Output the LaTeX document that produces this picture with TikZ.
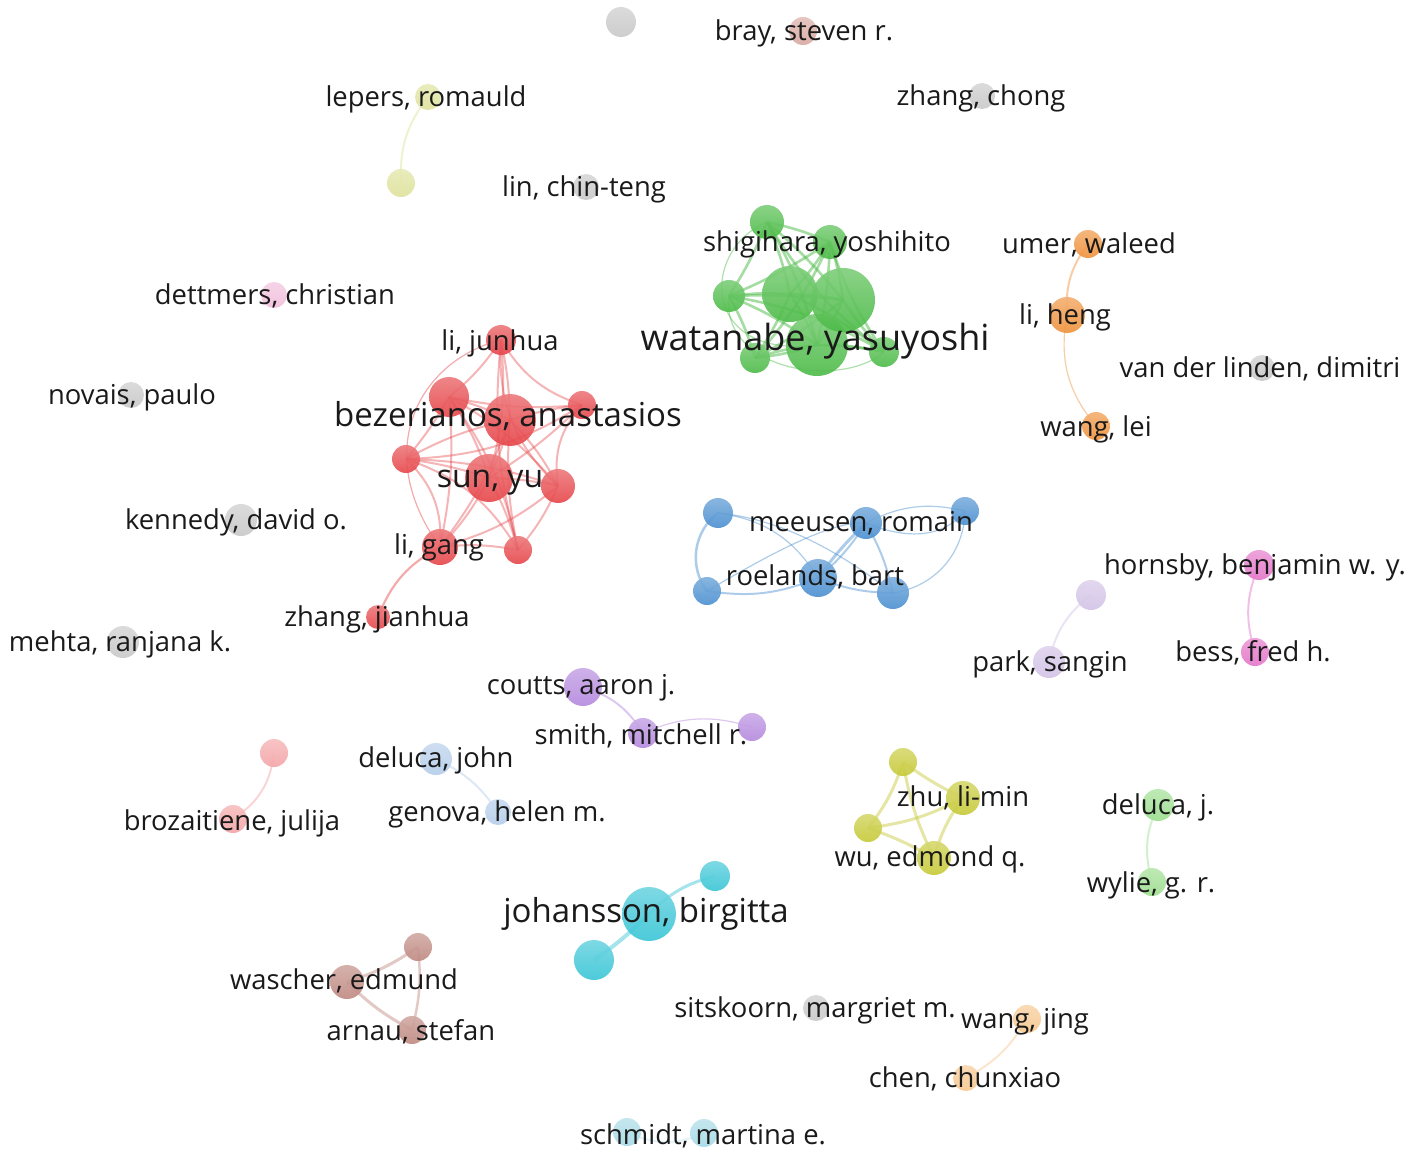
\documentclass[tikz,border=0pt]{standalone}
\usepackage{fontspec}
\setmainfont{Open Sans}
\definecolor{txt}{HTML}{1A1A1A}
\definecolor{cgray}{HTML}{C8C8C8}
\definecolor{cred}{HTML}{E64549}
\definecolor{cgreen}{HTML}{4CBB47}
\definecolor{cblue}{HTML}{4A8FD0}
\definecolor{corange}{HTML}{EF913A}
\definecolor{colive}{HTML}{C6C936}
\definecolor{ccyan}{HTML}{39C5D6}
\definecolor{cpurple}{HTML}{B488DE}
\definecolor{clav}{HTML}{D2C2E6}
\definecolor{cpink}{HTML}{E474C8}
\definecolor{cpinkl}{HTML}{F2BEDC}
\definecolor{csalmon}{HTML}{F4A4A6}
\definecolor{clblue}{HTML}{B4CDEA}
\definecolor{clgreen}{HTML}{9CDE8E}
\definecolor{cbrown}{HTML}{BF8880}
\definecolor{cbray}{HTML}{D8A8A0}
\definecolor{cpeach}{HTML}{F7C78E}
\definecolor{clep}{HTML}{DEE29A}
\definecolor{csch}{HTML}{A6DAE6}
\tikzset{
  nd/.style={circle, inner sep=0pt, draw=none, top color=#1!72!white, bottom color=#1, fill opacity=0.9},
  lb/.style={anchor=mid, text=txt, inner sep=0pt, yshift=-7pt, font=\fontsize{27.4}{30}\selectfont},
  lbig/.style={font=\fontsize{#1}{#1}\selectfont},
  ed/.style={draw=#1, line width=2pt, draw opacity=0.45},
  edt/.style={draw=#1, line width=1.2pt, draw opacity=0.45},
}
\begin{document}
\begin{tikzpicture}[x=1pt,y=-1pt]
\useasboundingbox[fill=white] (0,0) rectangle (1418,1155);
% ---------- node positions (coordinates) ----------
\coordinate (pgA) at (621,22);
\coordinate (pbray) at (803,31);
\coordinate (plep) at (428,97);
\coordinate (plep2) at (401,183);
\coordinate (pzc) at (982,96);
\coordinate (plin) at (586,187);
\coordinate (pdet) at (274,295);
\coordinate (pnov) at (131,395);
\coordinate (pken) at (241,520);
\coordinate (pmeh) at (123,642);
\coordinate (pvdl) at (1262,368);
\coordinate (psit) at (816,1008);
% ---------- edges ----------
% lepers
\draw[ed=clep] (plep) to[bend right=20] (plep2);
% orange
\draw[ed=corange] (1088,244) coordinate (pumer) to[bend right=20] (1067,315) coordinate (pheng);
\draw[edt=corange] (pheng) to[bend right=25] (1096,426) coordinate (pwlei);
% green
\coordinate (g1) at (767,222); \coordinate (shig) at (830,242); \coordinate (g3) at (729,296);
\coordinate (g4) at (790,294); \coordinate (g5) at (843,300); \coordinate (wat) at (817,345);
\coordinate (g6) at (755,358); \coordinate (g7) at (884,352);
\foreach \a/\b/\bd in {g1/shig/5,g1/g3/5,g1/g4/5,g1/g5/5,g1/wat/8,g1/g7/-10,shig/g3/5,shig/g4/5,shig/g5/5,shig/wat/5,shig/g6/8,shig/g7/-8,g3/g4/5,g3/g5/4,g3/wat/6,g3/g6/6,g3/g7/10,g4/g5/5,g4/wat/5,g4/g6/5,g4/g7/5,g5/wat/5,g5/g6/5,g5/g7/-5,wat/g6/5,wat/g7/5,g6/g7/15}
  \draw[ed=cgreen, line width=2.6pt, draw opacity=0.5] (\a) to[bend left=\bd] (\b);
\draw[edt=cgreen] (g1) .. controls (700,250) and (700,360) .. (wat);
\draw[edt=cgreen] (g3) .. controls (720,370) and (840,390) .. (g7);
% red
\coordinate (J) at (501,340); \coordinate (A) at (449,397); \coordinate (B) at (510,420);
\coordinate (C) at (582,405); \coordinate (D) at (406,459); \coordinate (S) at (489,478);
\coordinate (E) at (558,486); \coordinate (G) at (440,547); \coordinate (F) at (518,550);
\coordinate (Z) at (378,617);
\foreach \a/\b/\bd in {J/A/8,J/B/5,J/C/-20,J/S/10,J/E/-25,J/F/-10,A/B/5,A/C/-8,A/D/5,A/S/8,A/E/10,A/F/12,A/G/8,B/C/5,B/D/-8,B/S/5,B/E/8,B/G/8,B/F/-8,C/E/-25,C/S/6,C/D/15,D/S/5,D/E/8,D/G/25,D/F/20,S/E/5,S/G/8,S/F/6,E/F/8,E/G/12,G/F/8}
  \draw[ed=cred, line width=2pt, draw opacity=0.4] (\a) to[bend left=\bd] (\b);
\draw[edt=cred] (J) .. controls (420,360) and (370,450) .. (G);
\draw[ed=cred, line width=2.2pt] (G) to[bend right=20] (Z);
% blue
\coordinate (b1) at (718,513); \coordinate (M) at (866,523); \coordinate (b2) at (965,511);
\coordinate (R) at (818,578); \coordinate (b3) at (707,591); \coordinate (b4) at (893,593);
\draw[ed=cblue, line width=2.5pt] (b1) to[bend right=45] (b3);
\draw[edt=cblue] (b1) to[bend left=25] (R);
\draw[edt=cblue] (b1) .. controls (790,520) and (850,560) .. (b4);
\draw[ed=cblue] (b3) to[bend right=15] (R);
\draw[edt=cblue] (b3) .. controls (760,560) and (830,520) .. (M);
\draw[ed=cblue, line width=3pt] (R) to[bend left=5] (M);
\draw[ed=cblue] (R) to[bend right=8] (M);
\draw[ed=cblue] (M) to[bend left=8] (b4);
\draw[edt=cblue] (M) to[bend left=20] (b2);
\draw[edt=cblue] (M) .. controls (920,545) and (950,530) .. (b2);
\draw[edt=cblue] (b2) to[bend left=40] (b4);
\draw[ed=cblue] (R) to[bend right=10] (b4);
% lavender, pink
\draw[ed=clav] (1091,595) coordinate (lav1) to[bend right=20] (1049,662) coordinate (park);
\draw[ed=cpink] (1259,565) coordinate (horn) to[bend right=20] (1255,652) coordinate (bess);
% purple
\coordinate (cou) at (583,687); \coordinate (smi) at (643,733); \coordinate (p3) at (752,727);
\draw[ed=cpurple] (cou) to[bend left=20] (smi);
\draw[edt=cpurple] (smi) to[bend left=20] (p3);
% salmon, light blue
\draw[ed=csalmon] (274,753) coordinate (sal1) to[bend left=25] (233,819) coordinate (broz);
\draw[ed=clblue] (436,759) coordinate (djo) to[bend left=15] (498,812) coordinate (gen);
% olive
\coordinate (y1) at (903,762); \coordinate (Zh) at (963,798); \coordinate (y2) at (868,828); \coordinate (Wu) at (934,858);
\foreach \a/\b/\bd in {y1/Zh/-5,y1/y2/10,y1/Wu/-8,y2/Zh/-10,y2/Wu/5,Zh/Wu/-10}
  \draw[ed=colive, line width=3pt] (\a) to[bend left=\bd] (\b);
% light green
\draw[ed=clgreen] (1158,805) coordinate (dj) to[bend right=20] (1152,882) coordinate (wyl);
% cyan
\coordinate (c1) at (715,876); \coordinate (jo) at (649,914); \coordinate (c2) at (594,960);
\draw[ed=ccyan, line width=3pt] (c1) to[bend right=15] (jo);
\draw[ed=ccyan, line width=4pt] (jo) to[bend left=5] (c2);
% brown
\coordinate (br1) at (418,947); \coordinate (wa) at (347,982); \coordinate (ar) at (412,1030);
\draw[ed=cbrown, line width=3pt] (br1) to[bend left=8] (wa);
\draw[ed=cbrown, line width=3pt] (wa) to[bend right=8] (ar);
\draw[ed=cbrown, line width=2.5pt] (br1) to[bend left=10] (ar);
% peach, schmidt
\draw[ed=cpeach] (1027,1019) coordinate (wj) to[bend left=15] (966,1078) coordinate (cc);
\draw[ed=csch, draw opacity=0.3] (627,1132) coordinate (s1) to[bend right=25] (704,1133) coordinate (s2);
% ---------- nodes ----------
\node[nd=cgray, minimum size=30pt] (ngA) at (pgA) {};
\node[nd=cbray, minimum size=28pt] (nbray) at (pbray) {};
\node[nd=clep, minimum size=26pt] (nlep) at (plep) {};
\node[nd=clep, minimum size=28pt] (nlep2) at (plep2) {};
\node[nd=cgray, minimum size=26pt] (nzc) at (pzc) {};
\node[nd=cgray, minimum size=26pt] (nlin) at (plin) {};
\node[nd=cpinkl, minimum size=26pt] (ndet) at (pdet) {};
\node[nd=cgray, minimum size=26pt] (nnov) at (pnov) {};
\node[nd=cgray, minimum size=32pt] (nken) at (pken) {};
\node[nd=cgray, minimum size=32pt] (nmeh) at (pmeh) {};
\node[nd=cgray, minimum size=26pt] (nvdl) at (pvdl) {};
\node[nd=cgray, minimum size=26pt] (nsit) at (psit) {};
\node[nd=corange, minimum size=28pt] (numer) at (pumer) {};
\node[nd=corange, minimum size=36pt] (nheng) at (pheng) {};
\node[nd=corange, minimum size=28pt] (nwlei) at (pwlei) {};
\node[nd=cgreen, minimum size=34pt] (ng1) at (g1) {};
\node[nd=cgreen, minimum size=34pt] (nshig) at (shig) {};
\node[nd=cgreen, minimum size=32pt] (ng3) at (g3) {};
\node[nd=cgreen, minimum size=30pt] (ng6) at (g6) {};
\node[nd=cgreen, minimum size=30pt] (ng7) at (g7) {};
\node[nd=cgreen, minimum size=62pt] (nwat) at (wat) {};
\node[nd=cgreen, minimum size=56pt] (ng4) at (g4) {};
\node[nd=cgreen, minimum size=64pt] (ng5) at (g5) {};
\node[nd=cred, minimum size=30pt] (nJ) at (J) {};
\node[nd=cred, minimum size=40pt] (nA) at (A) {};
\node[nd=cred, minimum size=52pt] (nB) at (B) {};
\node[nd=cred, minimum size=28pt] (nC) at (C) {};
\node[nd=cred, minimum size=28pt] (nD) at (D) {};
\node[nd=cred, minimum size=48pt] (nS) at (S) {};
\node[nd=cred, minimum size=34pt] (nE) at (E) {};
\node[nd=cred, minimum size=36pt] (nG) at (G) {};
\node[nd=cred, minimum size=28pt] (nF) at (F) {};
\node[nd=cred, minimum size=24pt] (nZ) at (Z) {};
\node[nd=cblue, minimum size=30pt] (nb1) at (b1) {};
\node[nd=cblue, minimum size=32pt] (nM) at (M) {};
\node[nd=cblue, minimum size=28pt] (nb2) at (b2) {};
\node[nd=cblue, minimum size=38pt] (nR) at (R) {};
\node[nd=cblue, minimum size=28pt] (nb3) at (b3) {};
\node[nd=cblue, minimum size=32pt] (nb4) at (b4) {};
\node[nd=clav, minimum size=30pt] (nlav1) at (lav1) {};
\node[nd=clav, minimum size=32pt] (npark) at (park) {};
\node[nd=cpink, minimum size=30pt] (nhorn) at (horn) {};
\node[nd=cpink, minimum size=28pt] (nbess) at (bess) {};
\node[nd=cpurple, minimum size=38pt] (ncou) at (cou) {};
\node[nd=cpurple, minimum size=30pt] (nsmi) at (smi) {};
\node[nd=cpurple, minimum size=28pt] (np3) at (p3) {};
\node[nd=csalmon, minimum size=28pt] (nsal1) at (sal1) {};
\node[nd=csalmon, minimum size=28pt] (nbroz) at (broz) {};
\node[nd=clblue, minimum size=32pt] (ndjo) at (djo) {};
\node[nd=clblue, minimum size=26pt] (ngen) at (gen) {};
\node[nd=colive, minimum size=28pt] (ny1) at (y1) {};
\node[nd=colive, minimum size=34pt] (nZh) at (Zh) {};
\node[nd=colive, minimum size=28pt] (ny2) at (y2) {};
\node[nd=colive, minimum size=34pt] (nWu) at (Wu) {};
\node[nd=clgreen, minimum size=32pt] (ndj) at (dj) {};
\node[nd=clgreen, minimum size=28pt] (nwyl) at (wyl) {};
\node[nd=ccyan, minimum size=30pt] (nc1) at (c1) {};
\node[nd=ccyan, minimum size=54pt] (njo) at (jo) {};
\node[nd=ccyan, minimum size=40pt] (nc2) at (c2) {};
\node[nd=cbrown, minimum size=28pt] (nbr1) at (br1) {};
\node[nd=cbrown, minimum size=34pt] (nwa) at (wa) {};
\node[nd=cbrown, minimum size=28pt] (nar) at (ar) {};
\node[nd=cpeach, minimum size=28pt] (nwj) at (wj) {};
\node[nd=cpeach, minimum size=26pt] (ncc) at (cc) {};
\node[nd=csch, minimum size=28pt] (ns1) at (s1) {};
\node[nd=csch, minimum size=28pt] (ns2) at (s2) {};
% ---------- labels ----------
\node[lb] (lbray) at (804,31) {bray, steven r.};
\node[lb] (llep) at (426,97) {lepers, romauld};
\node[lb] (lzc) at (981,96) {zhang, chong};
\node[lb] (llin) at (584,187) {lin, chin-teng};
\node[lb] (lshig) at (827,242) {shigihara, yoshihito};
\node[lb] (lumer) at (1089,244) {umer, waleed};
\node[lb] (ldet) at (275,295) {dettmers, christian};
\node[lb] (lheng) at (1065,315) {li, heng};
\node[lb] (ljun) at (500,341) {li, junhua};
\node[lb, lbig=36] (lwat) at (815,341) {watanabe, yasuyoshi};
\node[lb] (lvdl) at (1260,368) {van der linden, dimitri};
\node[lb] (lnov) at (132,395) {novais, paulo};
\node[lb, lbig=33] (lbez) at (508,417) {bezerianos, anastasios};
\node[lb] (lwlei) at (1096,427) {wang, lei};
\node[lb, lbig=32] (lsun) at (490,478) {sun, yu};
\node[lb] (lken) at (236,520) {kennedy, david o.};
\node[lb] (lmee) at (861,522) {meeusen, romain};
\node[lb] (lgang) at (439,545) {li, gang};
\node[lb] (lhorn) at (1255,565) {hornsby, benjamin w. y.};
\node[lb] (lroe) at (815,576) {roelands, bart};
\node[lb] (lzj) at (377,617) {zhang, jianhua};
\node[lb] (lmeh) at (120,642) {mehta, ranjana k.};
\node[lb] (lbess) at (1253,652) {bess, fred h.};
\node[lb] (lpark) at (1050,662) {park, sangin};
\node[lb] (lcou) at (581,685) {coutts, aaron j.};
\node[lb] (lsmi) at (641,735) {smith, mitchell r.};
\node[lb] (ldjo) at (436,758) {deluca, john};
\node[lb] (lzh) at (963,797) {zhu, li-min};
\node[lb] (ldj) at (1158,805) {deluca, j.};
\node[lb] (lgen) at (497,812) {genova, helen m.};
\node[lb] (lbroz) at (232,821) {brozaitiene, julija};
\node[lb] (lwu) at (930,857) {wu, edmond q.};
\node[lb] (lwyl) at (1151,883) {wylie, g. r.};
\node[lb, lbig=33] (ljo) at (646,913) {johansson, birgitta};
\node[lb] (lwa) at (344,980) {wascher, edmund};
\node[lb] (lsit) at (815,1008) {sitskoorn, margriet m.};
\node[lb] (lwj) at (1025,1019) {wang, jing};
\node[lb] (lar) at (411,1031) {arnau, stefan};
\node[lb] (lcc) at (965,1078) {chen, chunxiao};
\node[lb] (lsch) at (703,1135) {schmidt, martina e.};
\end{tikzpicture}
\end{document}
